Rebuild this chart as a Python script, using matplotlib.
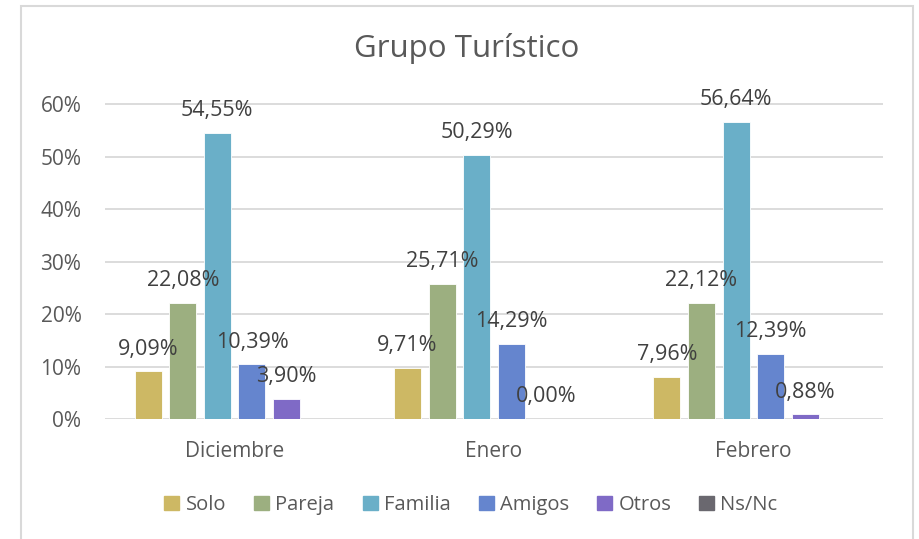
import matplotlib
matplotlib.use("Agg")
import matplotlib.pyplot as plt
import numpy as np
from matplotlib.patches import Rectangle

months = ["Diciembre", "Enero", "Febrero"]
series = ["Solo", "Pareja", "Familia", "Amigos", "Otros", "Ns/Nc"]
solo = [9.09, 9.71, 7.96]
pareja = [22.08, 25.71, 22.12]
familia = [54.55, 50.29, 56.64]
amigos = [10.39, 14.29, 12.39]
otros = [3.90, 0.00, 0.88]
nsnc = [np.nan, np.nan, np.nan]
colors = ["#CDB864", "#9CAF80", "#6AAFC8", "#6585CE", "#7F6AC6", "#6A686F"]
yticks = [0, 10, 20, 30, 40, 50, 60]

values = [solo, pareja, familia, amigos, otros, nsnc]

plt.rcParams['font.family'] = ['Open Sans', 'DejaVu Sans']
txt = "#595959"

fig = plt.figure(figsize=(9.19, 5.39), dpi=100)
# border
fig.patches.append(Rectangle((21/919, -0.01), (913-21)/919, 1 - 6/539 + 0.01,
                             transform=fig.transFigure, fill=False,
                             edgecolor="#D9D9D9", linewidth=1.5))

ax = fig.add_axes([105/919, 1 - 419/539, (883-105)/919, (419-104)/539 * (65/60)])
ax.set_xlim(-0.5, 2.5)

step = 0.1334
width = 0.104
x = np.arange(len(months))
for i, (name, vals, c) in enumerate(zip(series, values, colors)):
    off = (i - 2.5) * step
    ax.bar(x + off, vals, width, color=c, label=name, edgecolor="#FFFFFF", linewidth=0.6)
    if name != "Ns/Nc":
        for xi, v in zip(x + off, vals):
            ax.annotate(f"{v:.2f}%".replace(".", ","), (xi, v), xytext=(0, 16),
                        textcoords="offset points", ha="center", va="center",
                        fontsize=15.5, color="#404040")

ax.set_yticks(yticks)
ax.set_yticklabels([f"{t}%" for t in yticks], fontsize=15, color=txt)
ax.set_xticks(x)
ax.set_xticklabels(months, fontsize=15, color=txt)
ax.tick_params(length=0)
ax.tick_params(axis="y", pad=17)
ax.tick_params(axis="x", pad=16)
ax.grid(axis="y", color="#D9D9D9", linewidth=1.3)
ax.set_axisbelow(True)
for s in ax.spines.values():
    s.set_visible(False)
ax.set_ylim(0, 60.0001 * 65/60)

fig.text(467/919, 1 - 49/539, "Grupo Turístico", ha="center", va="center",
         fontsize=22.5, color=txt)

handles = [Rectangle((0, 0), 1, 1, color=c) for c in colors]
fig.legend(handles, series, loc="center", bbox_to_anchor=(471/919, 1 - 505/539),
           ncol=6, frameon=False, fontsize=14.5, handlelength=0.75, handleheight=0.75,
           handletextpad=0.3, columnspacing=1.4, labelcolor=txt)

fig.savefig("out.png", dpi=100)
